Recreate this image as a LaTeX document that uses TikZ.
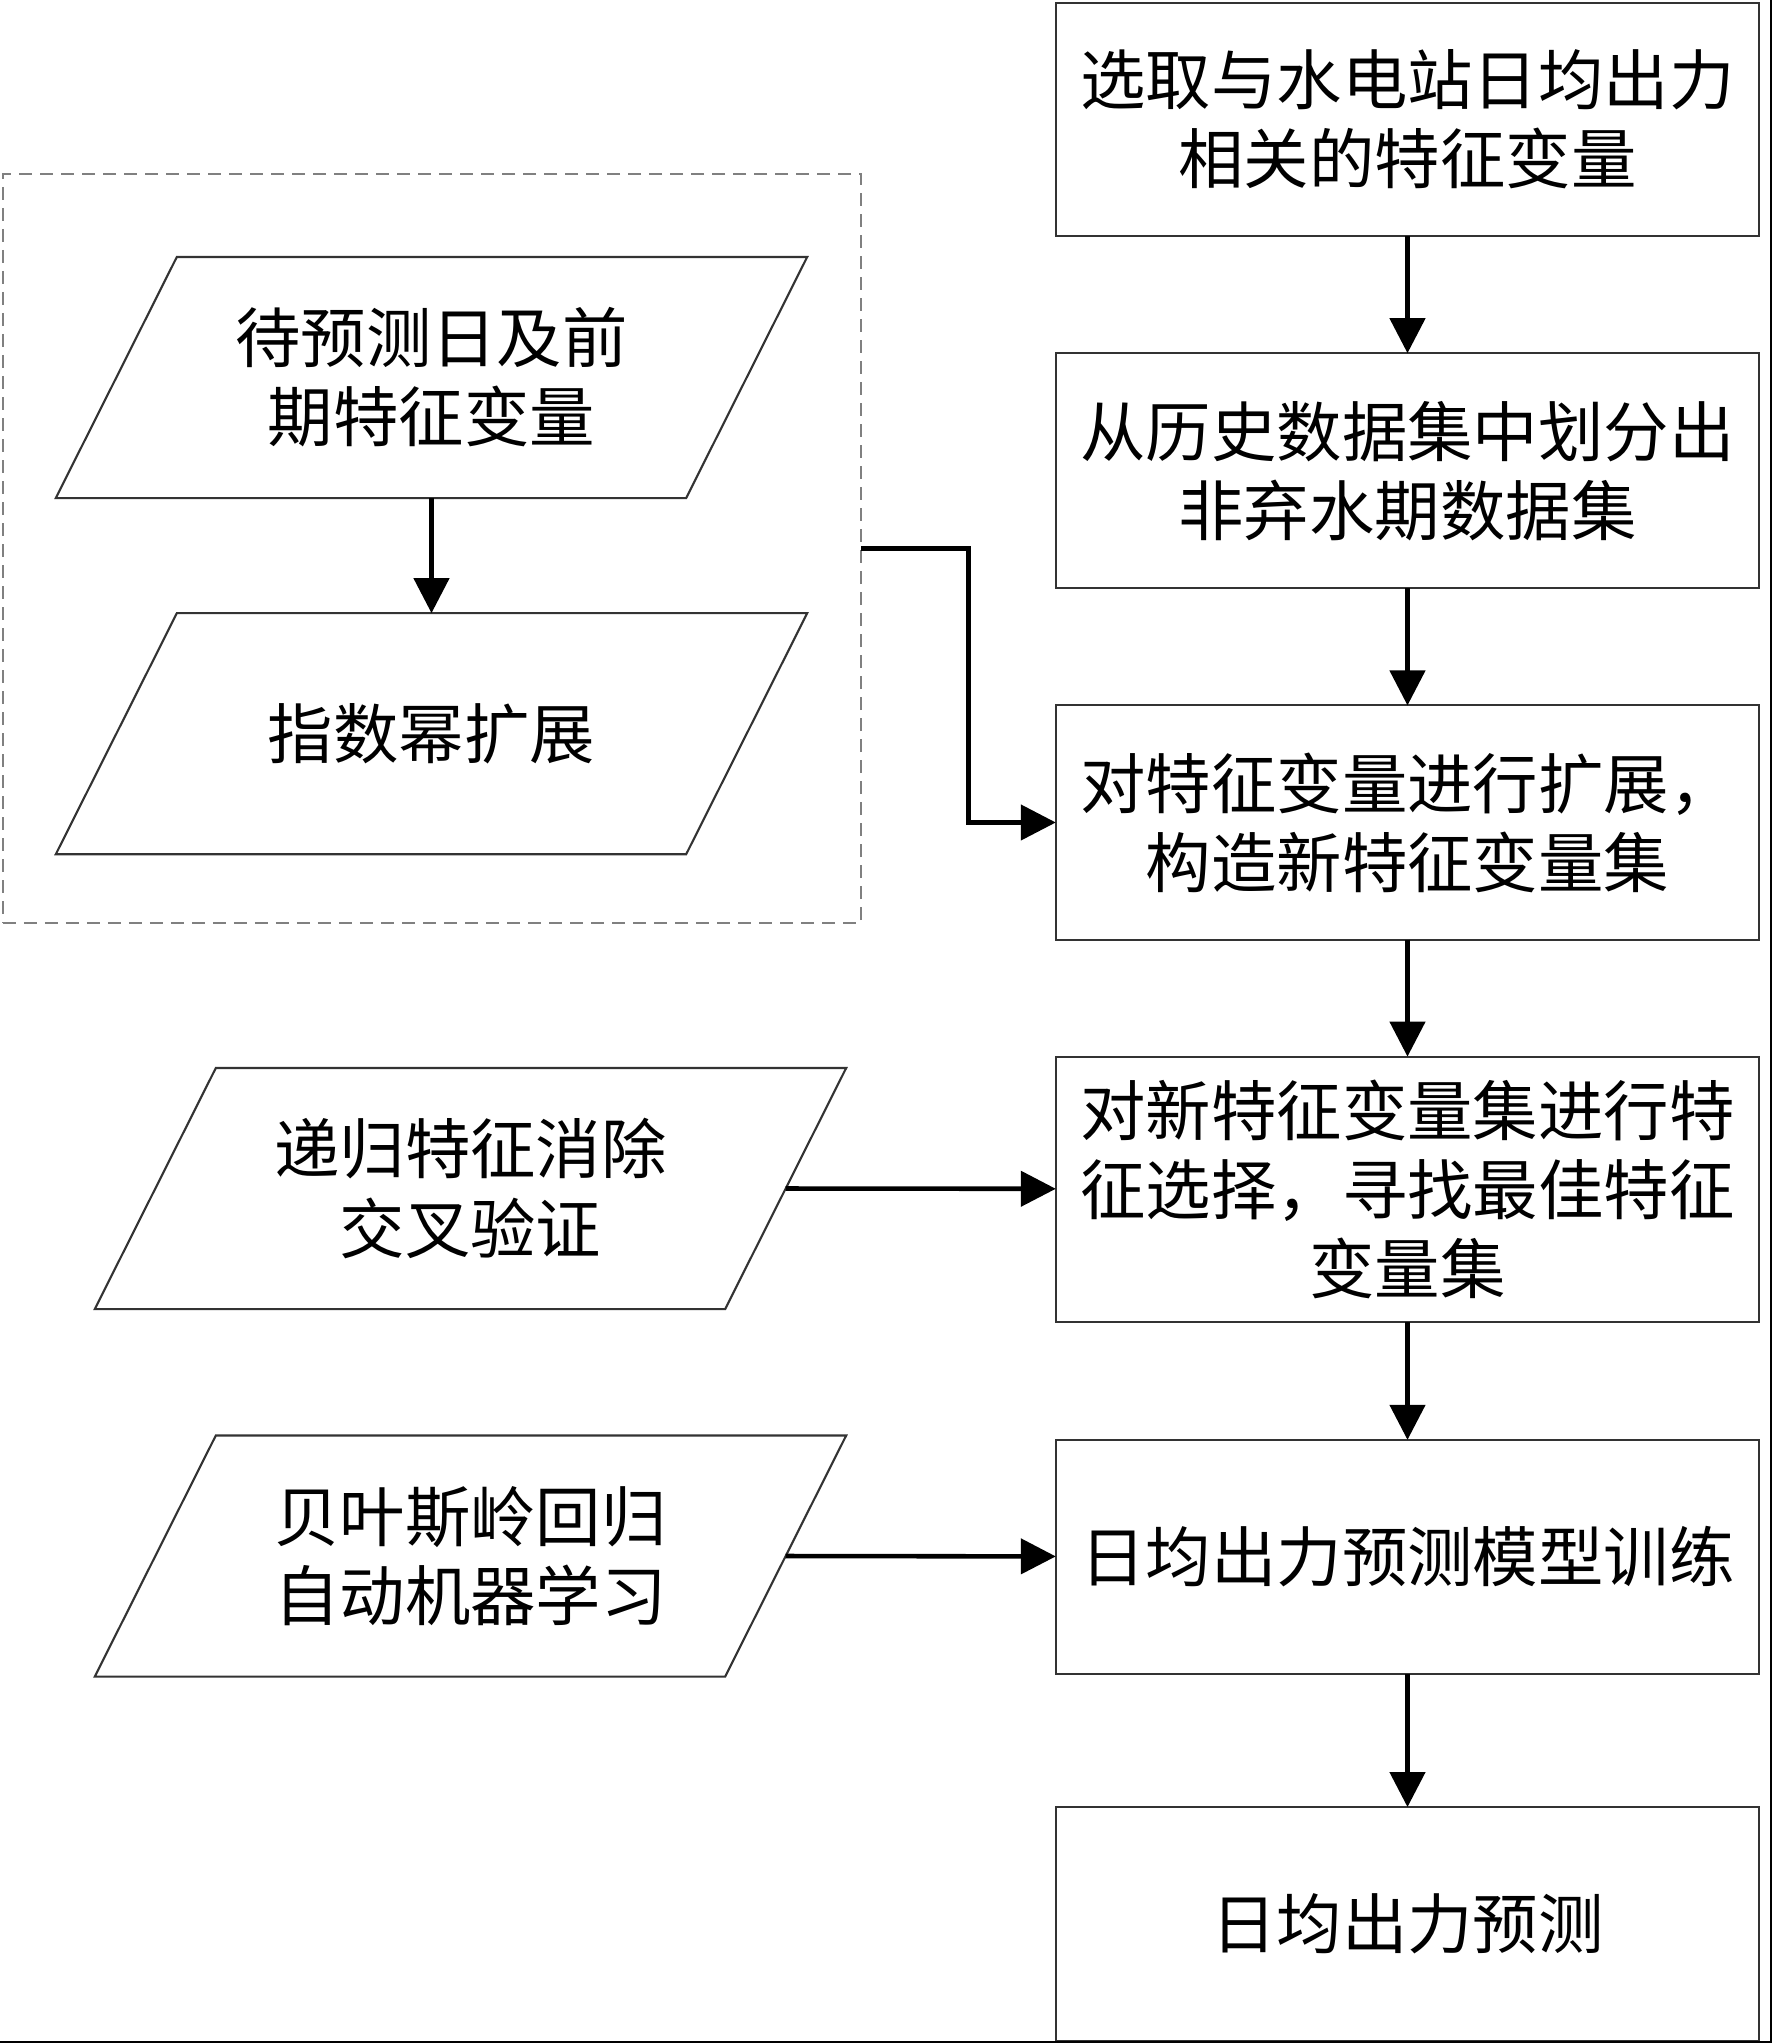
\documentclass[tikz,border=0pt]{standalone}
\usepackage{fontspec}
\usepackage{tikz}
\usetikzlibrary{positioning,shapes,arrows.meta}
\newfontfamily\cjk{Noto Sans CJK SC}
\tikzstyle{proc}=[%
      rectangle, draw=black!80, line width=0.6pt, fill=none, outer sep=0pt,
      minimum width=7.03cm, minimum height=2.34cm, inner sep=2pt, align=center
]
\tikzstyle{io}=[%
      rectangle, draw=none, fill=none, outer sep=0pt,
      minimum width=5.09cm, minimum height=2.41cm, inner sep=2pt, align=center
]
\tikzstyle{slant}=[%
      -, draw=black!80, line width=0.6pt
]
\tikzstyle{grp}=[%
      rectangle, draw=gray, line width=0.5pt, dash pattern=on 0.13cm off 0.08cm,
      outer sep=0pt, minimum width=8.58cm, minimum height=7.49cm
]

\begin{document}
\begin{tikzpicture}[x=0.01cm, y=-0.01cm,
    ->,
    >={Triangle[length=0.35cm,width=0.35cm]},
    line width=1.3pt,
    font=\cjk\fontsize{18.6pt}{22.5pt}\selectfont
  ]
    \useasboundingbox (0,0) rectangle (1773,2044);

    \node[proc, anchor=north, minimum height=2.33cm] (s1) at (1407.5,3) {选取与水电站日均出力\\相关的特征变量};
    \node[proc, minimum height=2.35cm] (s2) [below = 1.17cm of s1] {从历史数据集中划分出\\非弃水期数据集};
    \node[proc] (s3) [below = 1.17cm of s2] {对特征变量进行扩展，\\构造新特征变量集};
    \node[proc, minimum height=2.65cm] (s4) [below = 1.17cm of s3] {对新特征变量集进行特\\征选择，寻找最佳特征\\变量集};
    \node[proc] (s5) [below = 1.18cm of s4] {日均出力预测模型训练};
    \node[proc] (s6) [below = 1.33cm of s5] {日均出力预测};

    \node[io] (i1) at (431.5,377.5) {待预测日及前\\期特征变量};
    \node[io] (i2) [below = 1.15cm of i1] {指数幂扩展};
    \node[grp] (g) at (432,548.5) {};
    \node[io] (i3) at (470.5,1188.5) {递归特征消除\\交叉验证};
    \node[io] (i4) at (470.5,1556) {贝叶斯岭回归\\自动机器学习};

    % parallelogram outlines
    \foreach \n in {i1,i2,i3,i4}
      \draw[slant] (\n.north west) -- ([xshift=1.21cm]\n.north east)
                   -- (\n.south east) -- ([xshift=-1.21cm]\n.south west) -- cycle;

    \path (s1) edge (s2)
          (s2) edge (s3)
          (s3) edge (s4)
          (s4) edge (s5)
          (s5) edge (s6)
          (i1) edge (i2)
          ([xshift=0.605cm]i3.east) edge (s4)
          ([xshift=0.605cm]i4.east) edge (s5)
    ;
    \draw (g.east) -- ++(107,0) |- (s3.west);

    % page edges
    \draw[-, line width=0.6pt] (1771,0) -- (1771,2042) -- (0,2042);
  \end{tikzpicture}
\end{document}
